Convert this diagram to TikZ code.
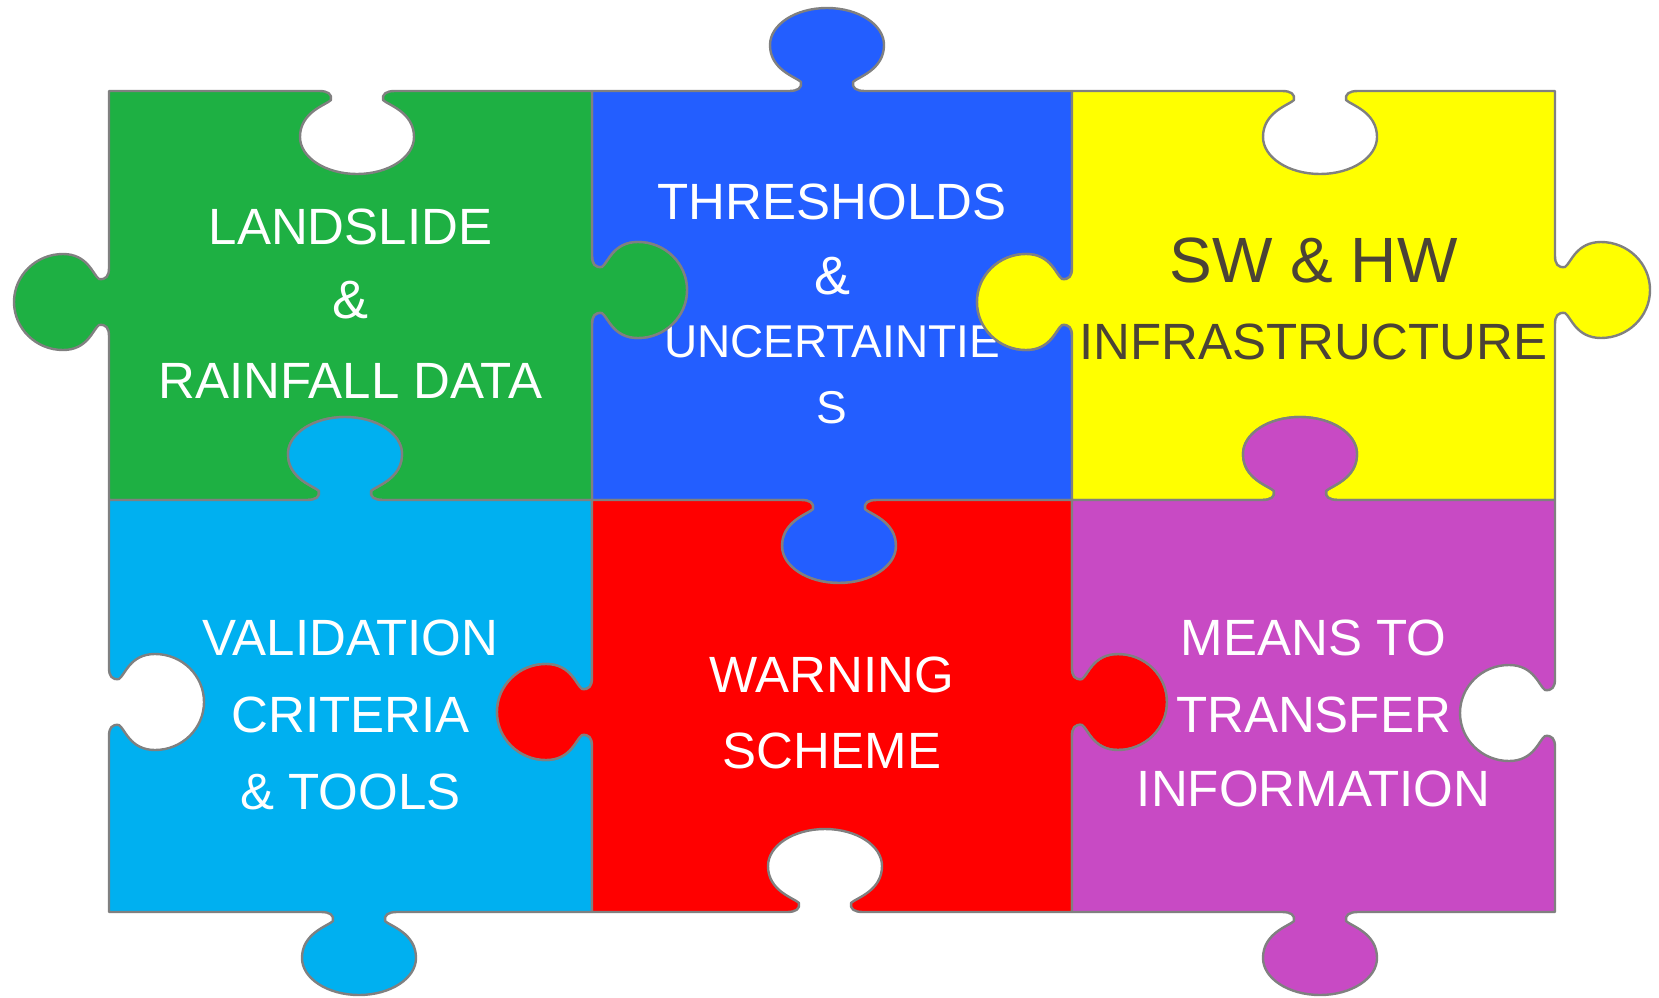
\documentclass[tikz,border=0pt]{standalone}
\usepackage{fontspec}
\setmainfont{Liberation Sans}
\definecolor{pgreen}{HTML}{1EB043}
\definecolor{pblue}{HTML}{235EFF}
\definecolor{pyellow}{HTML}{FFFF00}
\definecolor{pcyan}{HTML}{00B0F0}
\definecolor{pred}{HTML}{FF0000}
\definecolor{pmag}{HTML}{C84AC4}
\definecolor{pline}{HTML}{808080}
\definecolor{darktext}{HTML}{4B4336}
% horizontal edge tab: #1 centre x, #2 edge y, #3 direction (+1 = to the right), #4 tab side (+1 = down)
\newcommand{\hedge}[4]{%
 -- ({#1-(#3)*38},{#2})
 .. controls ({#1-(#3)*29},{#2}) and ({#1-(#3)*25},{#2+(#4)*3}) .. ({#1-(#3)*26},{#2+(#4)*9})
 .. controls ({#1-(#3)*31},{#2+(#4)*14}) and ({#1-(#3)*57},{#2+(#4)*21}) .. ({#1-(#3)*57},{#2+(#4)*46})
 .. controls ({#1-(#3)*57},{#2+(#4)*66.4}) and ({#1-(#3)*31.5},{#2+(#4)*83}) .. ({#1},{#2+(#4)*83})
 .. controls ({#1+(#3)*31.5},{#2+(#4)*83}) and ({#1+(#3)*57},{#2+(#4)*66.4}) .. ({#1+(#3)*57},{#2+(#4)*46})
 .. controls ({#1+(#3)*57},{#2+(#4)*21}) and ({#1+(#3)*31},{#2+(#4)*14}) .. ({#1+(#3)*26},{#2+(#4)*9})
 .. controls ({#1+(#3)*25},{#2+(#4)*3}) and ({#1+(#3)*29},{#2}) .. ({#1+(#3)*38},{#2})
}
% vertical edge tab: #1 centre y, #2 edge x, #3 direction (+1 = downwards), #4 tab side (+1 = right)
\newcommand{\vedge}[4]{%
 -- ({#2},{#1-(#3)*34})
 .. controls ({#2},{#1-(#3)*26}) and ({#2+(#4)*3},{#1-(#3)*22}) .. ({#2+(#4)*10},{#1-(#3)*23})
 .. controls ({#2+(#4)*16},{#1-(#3)*27}) and ({#2+(#4)*21},{#1-(#3)*48}) .. ({#2+(#4)*46},{#1-(#3)*48})
 .. controls ({#2+(#4)*73},{#1-(#3)*48}) and ({#2+(#4)*95},{#1-(#3)*26.5}) .. ({#2+(#4)*95},{#1})
 .. controls ({#2+(#4)*95},{#1+(#3)*26.5}) and ({#2+(#4)*73},{#1+(#3)*48}) .. ({#2+(#4)*46},{#1+(#3)*48})
 .. controls ({#2+(#4)*21},{#1+(#3)*48}) and ({#2+(#4)*16},{#1+(#3)*27}) .. ({#2+(#4)*10},{#1+(#3)*23})
 .. controls ({#2+(#4)*3},{#1+(#3)*22}) and ({#2},{#1+(#3)*26}) .. ({#2},{#1+(#3)*34})
}
\begin{document}
\begin{tikzpicture}[x=1pt,y=-1pt,
  piece/.style={draw=pline, line width=2.4pt, line join=round},
  lbl/.style={font=\fontsize{51}{60}\selectfont, text=white, inner sep=0pt, anchor=base},
  lbldark/.style={lbl, text=darktext}]
\useasboundingbox (0,0) rectangle (1659,998);
% blue
\path[piece, fill=pblue] (592,91) \hedge{827}{91}{1}{-1} -- (1072,91) \vedge{302}{1072}{1}{-1}
  -- (1072,500) \hedge{839}{500}{-1}{1} -- (592,500) \vedge{290}{592}{-1}{1} -- cycle;
\node[lbl] (b1) at (832,219) {THRESHOLDS};
\node[lbl, font=\fontsize{54}{60}\selectfont] (b2) at (832,294) {\&};
\node[lbl, font=\fontsize{46}{60}\selectfont] (b3) at (832,357) {UNCERTAINTIE};
\node[lbl, font=\fontsize{46}{60}\selectfont] (b4) at (832,423) {S};
% green
\path[piece, fill=pgreen] (109,91) \hedge{357}{91}{1}{1} -- (592,91) \vedge{290}{592}{1}{1}
  -- (592,500) \hedge{345}{500}{-1}{-1} -- (109,500) \vedge{302}{109}{-1}{-1} -- cycle;
\node[lbl] (g1) at (350.5,244) {LANDSLIDE};
\node[lbl, font=\fontsize{54}{60}\selectfont] (g2) at (350.5,318) {\&};
\node[lbl] (g3) at (350.5,398) {RAINFALL DATA};
% yellow
\path[piece, fill=pyellow] (1072,91) \hedge{1320}{91}{1}{1} -- (1555,91) \vedge{290}{1555}{1}{1}
  -- (1555,500) \hedge{1300}{500}{-1}{-1} -- (1072,500) \vedge{302}{1072}{-1}{-1} -- cycle;
\node[lbldark, font=\fontsize{64}{70}\selectfont] (y1) at (1313.5,282) {SW \& HW};
\node[lbldark, font=\fontsize{51}{60}\selectfont] (y2) at (1313.5,359) {INFRASTRUCTURE};
% cyan
\path[piece, fill=pcyan] (109,500) \hedge{345}{500}{1}{-1} -- (592,500) \vedge{712}{592}{1}{-1}
  -- (592,912) \hedge{359}{912}{-1}{1} -- (109,912) \vedge{702}{109}{-1}{1} -- cycle;
\node[lbl] (c1) at (350.5,655) {VALIDATION};
\node[lbl] (c2) at (350.5,732) {CRITERIA};
\node[lbl] (c3) at (350.5,809) {\& TOOLS};
% red
\path[piece, fill=pred] (592,500) \hedge{839}{500}{1}{1} -- (1072,500) \vedge{702}{1072}{1}{1}
  -- (1072,912) \hedge{825}{912}{-1}{-1} -- (592,912) \vedge{712}{592}{-1}{-1} -- cycle;
\node[lbl] (r1) at (832,692) {WARNING};
\node[lbl] (r2) at (832,768) {SCHEME};
% magenta
\path[piece, fill=pmag] (1072,500) \hedge{1300}{500}{1}{-1} -- (1555,500) \vedge{713}{1555}{1}{-1}
  -- (1555,912) \hedge{1320}{912}{-1}{1} -- (1072,912) \vedge{702}{1072}{-1}{1} -- cycle;
\node[lbl] (m1) at (1313.5,655) {MEANS TO};
\node[lbl] (m2) at (1313.5,732) {TRANSFER};
\node[lbl] (m3) at (1313.5,806) {INFORMATION};
\end{tikzpicture}
\end{document}
